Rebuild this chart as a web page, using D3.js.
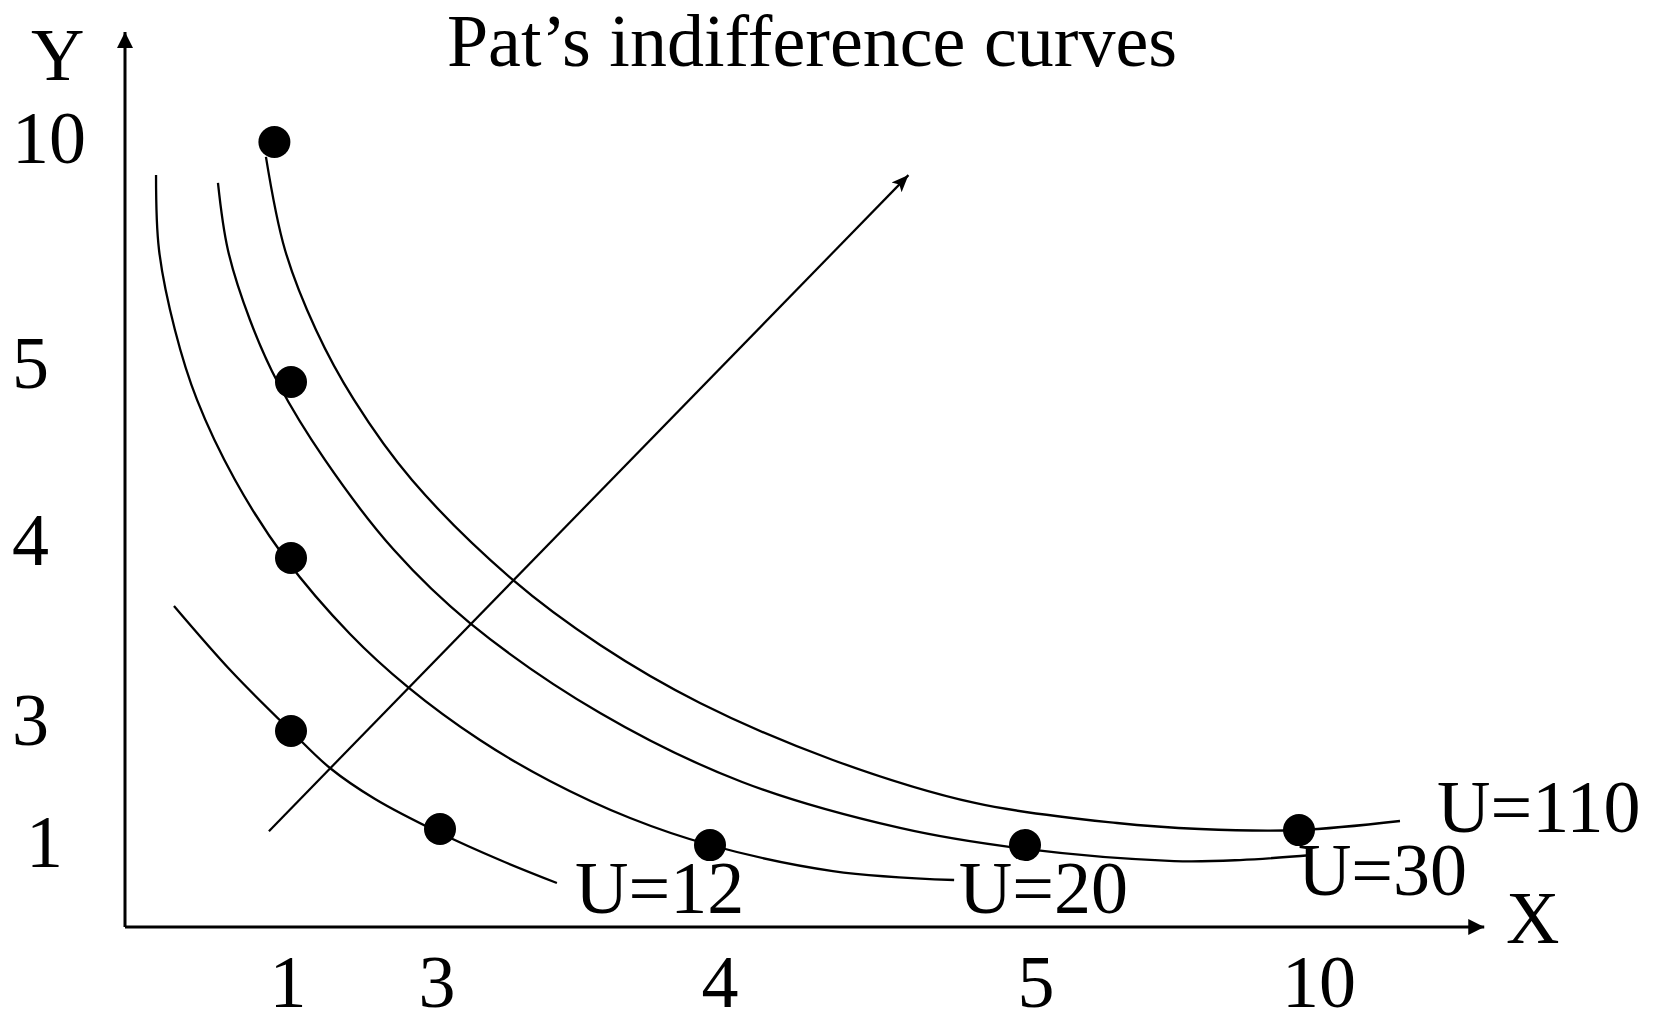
<!DOCTYPE html>
<html><head><meta charset="utf-8">
<script src="https://cdn.jsdelivr.net/npm/d3@7"></script>
<style>
html,body{margin:0;padding:0;background:#fff;}
svg{display:block;}
text{font-family:"Liberation Serif","Times New Roman",serif;fill:#000;}
</style>
</head><body><svg id="chart" width="1661" height="1017"></svg>
<script>
// ---------- data ----------
const title = "Pat’s indifference curves";
const xAxisLabel = "X";
const yAxisLabel = "Y";
const xTickValues = [1, 3, 4, 5, 10];
const yTickValues = [10, 5, 4, 3, 1];
const xBreaks = [0, 1, 3, 4, 5, 10];
const yBreaks = [0, 1, 3, 4, 5, 10];
const axisMaxX = 13.38;
const axisMaxY = 12.29;

// bundles (dots)
const bundleX = [0.9, 1, 1, 1, 3, 4, 5, 10];
const bundleY = [10, 5, 4, 3, 1.15, 0.91, 0.91, 1.13];

// indifference curves, [x, y] in chart units
const curveU12 = [[0.295,3.723],[0.645,3.341],[1,3],[1.523,2.302],[2.128,1.717],[3,1.075],[3.222,0.744],[3.433,0.489]];
const curveU20 = [[0.187,9.313],[0.205,7.75],[0.301,6.083],[0.434,4.898],[0.663,4.443],[0.964,4],[1.792,3.561],[2.570,3.254],[3.148,2.830],[3.407,2.057],[3.704,1.358],[4,0.911],[4.390,0.622],[4.775,0.522]];
const curveU30 = [[0.560,9.146],[0.620,7.75],[0.753,6.292],[0.922,4.994],[1.456,4.557],[2.383,4.045],[3.111,3.624],[3.593,3.104],[4.102,2.038],[4.603,1.170],[5,0.867],[7.719,0.733],[8.923,0.744],[10.237,0.8]];
const curveU110 = [[0.849,9.69],[0.964,7.75],[1.336,6.083],[1.846,4.898],[2.624,4.443],[3.270,3.873],[3.593,3.497],[3.963,3.162],[4.390,2.453],[4.841,1.642],[6.679,1.264],[8.193,1.151],[10,1.132],[11.843,1.302]];
const curveNames = ["U=12", "U=20", "U=30", "U=110"];
const labelX = [3.5, 4.79, 9.98, 12.52];
const labelY = [0.16, 0.16, 0.36, 1.09];

// direction of increasing utility
const arrowFrom = [0.867, 1.11];
const arrowTo = [4.63, 9.31];

// ---------- layout ----------
const svg = d3.select("#chart");
const FS = 74;
const xLabelNudge = [-3, -3, 10, 11, 20];      // px, tick labels are hand-placed
const yLabelNudgeY = [-4, -19, -18, -11, 5];
const yLabelNudgeX = [0, 0, 0, 0, 14];

const x = d3.scaleLinear().domain(xBreaks).range([125, 291, 440, 710, 1025, 1299]);
const y = d3.scaleLinear().domain(yBreaks).range([927, 837, 731, 558, 382, 142]);

const defs = svg.append("defs");
defs.append("marker").attr("id","axisHead").attr("markerUnits","userSpaceOnUse")
  .attr("viewBox","-17 -9 18 18").attr("refX",0).attr("refY",0)
  .attr("markerWidth",18).attr("markerHeight",18).attr("orient","auto")
  .append("path").attr("d","M0,0 L-16,-8 L-16,8 Z").attr("fill","#000");
defs.append("marker").attr("id","lineHead").attr("markerUnits","userSpaceOnUse")
  .attr("viewBox","-17 -9 18 18").attr("refX",0).attr("refY",0)
  .attr("markerWidth",18).attr("markerHeight",18).attr("orient","auto")
  .append("path").attr("d","M0,0 L-17,-7 L-13,0 L-17,7 Z").attr("fill","#000");

// axes
svg.append("line").attr("x1", x(0)).attr("y1", y(0)).attr("x2", x(axisMaxX)).attr("y2", y(0))
  .attr("stroke","#000").attr("stroke-width",3).attr("marker-end","url(#axisHead)");
svg.append("line").attr("x1", x(0)).attr("y1", y(0)).attr("x2", x(0)).attr("y2", y(axisMaxY))
  .attr("stroke","#000").attr("stroke-width",3).attr("marker-end","url(#axisHead)");

// tick labels
svg.append("g").selectAll("text").data(xTickValues).join("text")
  .attr("x", (d,i) => x(d) + xLabelNudge[i]).attr("y", 1007).attr("text-anchor","middle")
  .attr("font-size", FS).text(d => d);
svg.append("g").selectAll("text").data(yTickValues).join("text")
  .attr("x", (d,i) => 12 + yLabelNudgeX[i]).attr("y", (d,i) => y(d) + yLabelNudgeY[i] + 25)
  .attr("text-anchor","start").attr("font-size", FS).text(d => d);

// axis titles
svg.append("text").attr("x", 31).attr("y", 80).attr("font-size", FS).text(yAxisLabel);
svg.append("text").attr("x", 1506).attr("y", 943).attr("font-size", FS).text(xAxisLabel);

// title
svg.append("text").attr("x", 812).attr("y", 66).attr("text-anchor","middle")
  .attr("font-size", FS).text(title);

// curves
const line = d3.line().x(d => x(d[0])).y(d => y(d[1])).curve(d3.curveCatmullRom.alpha(0.5));
const curves = [curveU12, curveU20, curveU30, curveU110];
svg.append("g").selectAll("path").data(curves).join("path")
  .attr("d", line).attr("fill","none").attr("stroke","#000").attr("stroke-width",2.3);

// curve labels
svg.append("g").selectAll("text").data(curveNames).join("text")
  .attr("x", (d,i) => x(labelX[i])).attr("y", (d,i) => y(labelY[i]))
  .attr("font-size", FS).text(d => d);

// arrow
svg.append("line").attr("x1", x(arrowFrom[0])).attr("y1", y(arrowFrom[1]))
  .attr("x2", x(arrowTo[0])).attr("y2", y(arrowTo[1]))
  .attr("stroke","#000").attr("stroke-width",2.2).attr("marker-end","url(#lineHead)");

// dots
svg.append("g").selectAll("circle").data(bundleX).join("circle")
  .attr("cx", d => x(d)).attr("cy", (d,i) => y(bundleY[i])).attr("r", 16).attr("fill","#000");
</script>
</body></html>
